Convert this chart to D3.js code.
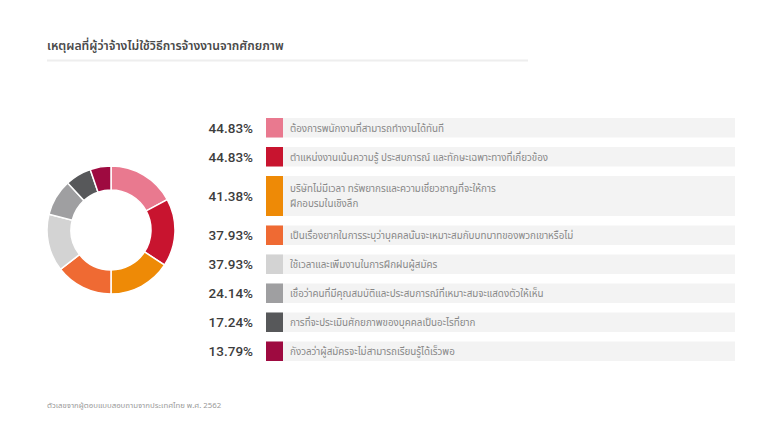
<!DOCTYPE html>
<html><head><meta charset="utf-8">
<script src="https://cdn.jsdelivr.net/npm/d3@7"></script>
<style>html,body{margin:0;padding:0;background:#fff;}svg{display:block;}</style>
</head><body>
<svg id="chart" width="780" height="445"></svg>
<script>
const title = "เหตุผลที่ผู้ว่าจ้างไม่ใช้วิธีการจ้างงานจากศักยภาพ";
const footnote = "ตัวเลขจากผู้ตอบแบบสอบถามจากประเทศไทย พ.ศ. 2562";
const categories = [
  ["ต้องการพนักงานที่สามารถทำงานได้ทันที"],
  ["ตำแหน่งงานเน้นความรู้ ประสบการณ์ และทักษะเฉพาะทางที่เกี่ยวข้อง"],
  ["บริษัทไม่มีเวลา ทรัพยากรและความเชี่ยวชาญที่จะให้การ", "ฝึกอบรมในเชิงลึก"],
  ["เป็นเรื่องยากในการระบุว่าบุคคลนั้นจะเหมาะสมกับบทบาทของพวกเขาหรือไม่"],
  ["ใช้เวลาและเพิ่มงานในการฝึกฝนผู้สมัคร"],
  ["เชื่อว่าคนที่มีคุณสมบัติและประสบการณ์ที่เหมาะสมจะแสดงตัวให้เห็น"],
  ["การที่จะประเมินศักยภาพของบุคคลเป็นอะไรที่ยาก"],
  ["กังวลว่าผู้สมัครจะไม่สามารถเรียนรู้ได้เร็วพอ"]
];
const values = [44.83, 44.83, 41.38, 37.93, 37.93, 24.14, 17.24, 13.79];
const colors = ["#e9798f", "#c8142f", "#ee8a06", "#ef6a33", "#d3d3d3", "#9f9fa1", "#57585a", "#9e0a40"];

const svg = d3.select("#chart");
const font = "'Noto Sans', 'Noto Sans Thai', sans-serif";

// Title
svg.append("text").attr("x", 47).attr("y", 50)
  .attr("font-family", font).attr("font-size", 12.2).attr("font-weight", 600)
  .attr("fill", "#4a4a4a").text(title);
svg.append("line").attr("x1", 47).attr("x2", 528).attr("y1", 60.5).attr("y2", 60.5)
  .attr("stroke", "#eeeeee").attr("stroke-width", 2);

// Donut
const pie = d3.pie().sort(null).value(d => d);
const arc = d3.arc().innerRadius(40).outerRadius(64);
const g = svg.append("g").attr("transform", "translate(111,230)");
g.selectAll("path").data(pie(values)).join("path")
  .attr("d", arc).attr("fill", (d, i) => colors[i])
  .attr("stroke", "#fff").attr("stroke-width", 1.5);

// Rows
const rowH = categories.map(c => c.length > 1 ? 40 : 19.5);
const rowY = [];
let y = 118;
rowH.forEach(h => { rowY.push(y); y += h + 9.5; });

const rows = svg.append("g").selectAll("g").data(values).join("g")
  .attr("transform", (d, i) => `translate(0,${rowY[i]})`);
rows.append("rect").attr("x", 266).attr("y", 0).attr("width", 469)
  .attr("height", (d, i) => rowH[i]).attr("fill", "#f3f3f3");
rows.append("rect").attr("x", 266).attr("y", 0).attr("width", 17)
  .attr("height", (d, i) => rowH[i]).attr("fill", (d, i) => colors[i]);
rows.append("text").attr("x", 253).attr("y", (d, i) => rowH[i] / 2 + 5)
  .attr("text-anchor", "end").attr("font-family", "Roboto, 'Liberation Sans', Arial, sans-serif")
  .attr("font-size", 13.5).attr("font-weight", 500).attr("fill", "#3d3d3d")
  .text(d => d.toFixed(2) + "%");
rows.each(function (d, i) {
  const lines = categories[i];
  const t = d3.select(this).append("text").attr("font-family", font)
    .attr("font-size", 9.8).attr("fill", "#888");
  lines.forEach((ln, k) => {
    t.append("tspan").attr("x", 290)
      .attr("y", lines.length > 1 ? 16 + k * 15 : rowH[i] / 2 + 3.8)
      .text(ln);
  });
});

// Footnote
svg.append("text").attr("x", 47).attr("y", 408)
  .attr("font-family", font).attr("font-size", 7.8).attr("fill", "#999")
  .text(footnote);
</script>
</body></html>
